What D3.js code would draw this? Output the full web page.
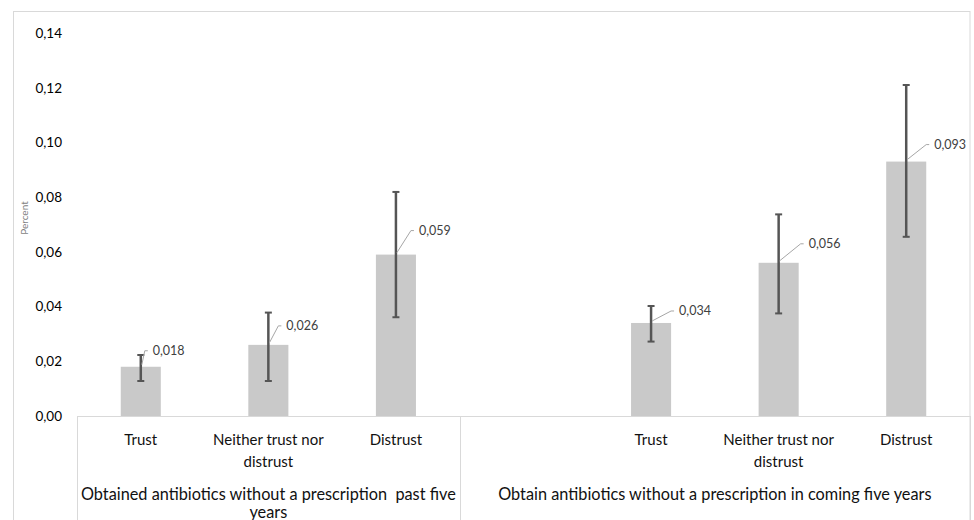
<!DOCTYPE html>
<html>
<head>
<meta charset="utf-8">
<script src="https://cdn.jsdelivr.net/npm/d3@7"></script>
<style>
  html, body { margin: 0; padding: 0; background: #fff; }
  svg { display: block; font-family: Lato, "Open Sans", sans-serif; }
</style>
</head>
<body>
<svg id="chart" width="974" height="520"></svg>
<script>
// ---------------- DATA ----------------
const groupLabels = [
  "Obtained antibiotics without a prescription  past five years",
  "Obtain antibiotics without a prescription in coming five years"
];
const categories = ["Trust", "Neither trust nor distrust", "Distrust"];
const valuesPast   = [0.018, 0.026, 0.059];
const valuesComing = [0.034, 0.056, 0.093];
const lowerPast    = [0.0128, 0.0128, 0.0361];
const upperPast    = [0.0223, 0.0378, 0.0819];
const lowerComing  = [0.0272, 0.0375, 0.0655];
const upperComing  = [0.0402, 0.0737, 0.1210];
const yTicks = [0, 0.02, 0.04, 0.06, 0.08, 0.10, 0.12, 0.14];
const yLabel = "Percent";

// ---------------- LAYOUT ----------------
const W = 974, H = 520;
const plot = { left: 77, right: 970, top: 33, bottom: 416 };
// per-bar label leader offsets (px, relative to bar top / centre)
const labelOffsets = [[12, 16], [18, 19], [23, 24], [28, 12], [30, 19], [28, 17]];

const svg = d3.select("#chart");
const loc = d3.formatLocale({ decimal: ",", thousands: " ", grouping: [3], currency: ["", ""] });
const fmt3 = loc.format(".3f");
const fmt2 = loc.format(".2f");

// slots: group 0 has 3 slots, group 1 has a spacer + 3 slots
const slots = [];
categories.forEach((c, i) => slots.push({ key: "g0_" + i, group: 0, cat: c, value: valuesPast[i], lo: lowerPast[i], hi: upperPast[i] }));
slots.push({ key: "g1_pad", group: 1, cat: null });
categories.forEach((c, i) => slots.push({ key: "g1_" + i, group: 1, cat: c, value: valuesComing[i], lo: lowerComing[i], hi: upperComing[i] }));

const x = d3.scaleBand()
  .domain(slots.map(d => d.key))
  .range([plot.left, plot.right])
  .paddingInner(0.686)
  .paddingOuter(0.343);
const step = x.step();
const y = d3.scaleLinear().domain([0, 0.14]).range([plot.bottom, plot.top]);

// outer border
svg.append("rect")
  .attr("x", 13.5).attr("y", 11.5)
  .attr("width", plot.right - 13.5).attr("height", H + 20)
  .attr("fill", "none").attr("stroke", "#d9d9d9").attr("stroke-width", 1);

// y axis tick labels
const yAxis = d3.axisLeft(y).tickValues(yTicks).tickFormat(fmt2).tickSize(0).tickPadding(0);
const yg = svg.append("g").attr("transform", "translate(62,0)").call(yAxis);
yg.select(".domain").remove();
yg.selectAll("text").attr("font-family", "Lato, sans-serif").attr("font-size", 13.5).attr("fill", "#000");

// y label
svg.append("text")
  .attr("transform", "translate(28,218) rotate(-90)")
  .attr("text-anchor", "middle")
  .attr("font-size", 10)
  .attr("fill", "#7f7f7f")
  .text(yLabel);

// category axis lines
svg.append("line")
  .attr("x1", plot.left).attr("x2", plot.right)
  .attr("y1", plot.bottom + 0.5).attr("y2", plot.bottom + 0.5)
  .attr("stroke", "#d9d9d9");
const half = (step - x.bandwidth()) / 2;
const groupBounds = [
  [x("g0_0") - half, x("g0_2") + x.bandwidth() + half],
  [x("g1_pad") - half, x("g1_2") + x.bandwidth() + half]
];
[groupBounds[0][0], groupBounds[1][0], groupBounds[1][1]].forEach(xx => {
  svg.append("line")
    .attr("x1", Math.round(xx) + 0.5).attr("x2", Math.round(xx) + 0.5)
    .attr("y1", plot.bottom).attr("y2", H)
    .attr("stroke", "#d9d9d9");
});

const dataSlots = slots.filter(d => d.cat !== null);

// bars
svg.append("g").selectAll("rect")
  .data(dataSlots)
  .join("rect")
  .attr("x", d => x(d.key))
  .attr("width", x.bandwidth())
  .attr("y", d => y(d.value))
  .attr("height", d => y(0) - y(d.value))
  .attr("fill", "#c9c9c9");

// error bars
const eg = svg.append("g").attr("stroke", "#555555").attr("stroke-width", 2.5);
dataSlots.forEach(d => {
  const cx = x(d.key) + x.bandwidth() / 2;
  eg.append("line").attr("x1", cx).attr("x2", cx).attr("y1", y(d.lo)).attr("y2", y(d.hi));
  eg.append("line").attr("x1", cx - 3.5).attr("x2", cx + 3.5).attr("y1", y(d.lo)).attr("y2", y(d.lo)).attr("stroke-width", 2);
  eg.append("line").attr("x1", cx - 3.5).attr("x2", cx + 3.5).attr("y1", y(d.hi)).attr("y2", y(d.hi)).attr("stroke-width", 2);
});

// data labels with leader lines
dataSlots.forEach((d, i) => {
  const cx = x(d.key) + x.bandwidth() / 2;
  const ty = y(d.value);
  const [dx, dy] = labelOffsets[i];
  const sx = cx + 1, sy = ty - 2;
  const ex = cx + dx - 5, ey = ty - dy;
  svg.append("path")
    .attr("d", `M${sx},${sy} L${ex - 3},${ey} L${ex},${ey}`)
    .attr("fill", "none").attr("stroke", "#a6a6a6").attr("stroke-width", 1);
  svg.append("text")
    .attr("x", cx + dx).attr("y", ey)
    .attr("dy", "0.35em")
    .attr("font-size", 12.5)
    .attr("fill", "#404040")
    .text(fmt3(d.value));
});

// wrapping helper
function wrapLines(text, maxWidth, fontSize) {
  const tmp = svg.append("text").attr("font-size", fontSize).style("white-space", "pre");
  const words = text.split(" ");
  const lines = [];
  let cur = "";
  words.forEach(w => {
    const test = cur === "" ? w : cur + " " + w;
    tmp.text(test);
    if (tmp.node().getComputedTextLength() > maxWidth && cur !== "") {
      lines.push(cur);
      cur = w;
    } else cur = test;
  });
  if (cur !== "") lines.push(cur);
  tmp.remove();
  return lines;
}

// category labels
dataSlots.forEach(d => {
  const cx = x(d.key) + x.bandwidth() / 2;
  const lines = wrapLines(d.cat, step - 4, 15);
  lines.forEach((ln, j) => {
    svg.append("text")
      .attr("x", cx).attr("y", 440 + j * 22)
      .attr("dy", "0.35em")
      .attr("text-anchor", "middle")
      .attr("font-size", 15)
      .attr("fill", "#111")
      .text(ln);
  });
});

// group labels
groupLabels.forEach((g, gi) => {
  const [a, b] = groupBounds[gi];
  const cx = (a + b) / 2;
  const lines = wrapLines(g, (b - a) + 20, 16.3);
  lines.forEach((ln, j) => {
    svg.append("text")
      .attr("x", cx).attr("y", 494 + j * 18)
      .attr("dy", "0.35em")
      .attr("text-anchor", "middle")
      .attr("font-size", 16.3)
      .attr("fill", "#111")
      .style("white-space", "pre")
      .text(ln);
  });
});
</script>
</body>
</html>
